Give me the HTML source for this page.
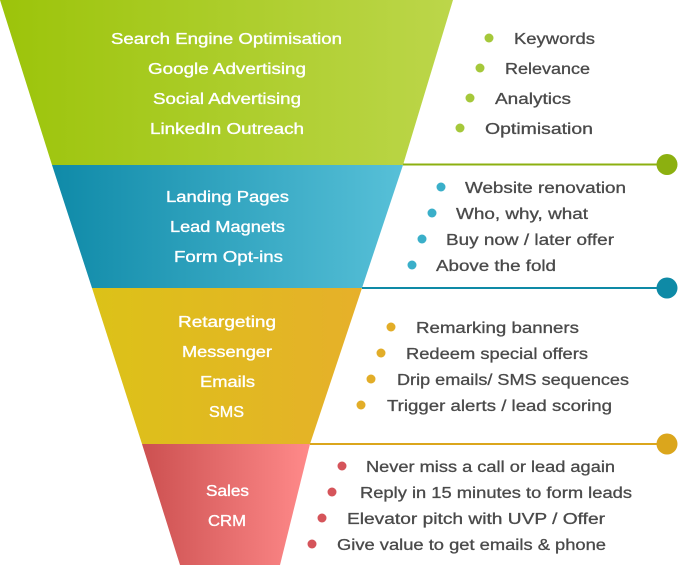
<!DOCTYPE html>
<html><head><meta charset="utf-8"><style>
html,body{margin:0;padding:0;background:#fff;}
svg text{font-family:"Liberation Sans",sans-serif;font-size:15.5px;}
.w{fill:#fff;stroke:#fff;stroke-width:0.35;text-anchor:start;}
.g{fill:#4a4a4a;stroke:#4a4a4a;stroke-width:0.3;}
</style></head><body>
<svg width="678" height="565" viewBox="0 0 678 565" xmlns="http://www.w3.org/2000/svg">
<defs>
<linearGradient id="gg" x1="0" y1="0" x2="1" y2="0"><stop offset="0" stop-color="#9cc40a"/><stop offset="1" stop-color="#bcd64a"/></linearGradient>
<linearGradient id="gb" x1="0" y1="0" x2="1" y2="0"><stop offset="0" stop-color="#0f8aa8"/><stop offset="1" stop-color="#57c0d8"/></linearGradient>
<linearGradient id="gy" x1="0" y1="0" x2="1" y2="0"><stop offset="0" stop-color="#dcc218"/><stop offset="1" stop-color="#e6b02a"/></linearGradient>
<linearGradient id="gr" x1="0" y1="0" x2="1" y2="0"><stop offset="0" stop-color="#cc5050"/><stop offset="1" stop-color="#ff8a8a"/></linearGradient>
</defs>
<polygon points="0,0 453,0 403,165 52,165" fill="url(#gg)"/>
<polygon points="52,165 403,165 362,288 92,288" fill="url(#gb)"/>
<polygon points="92,288 362,288 310,444 142,444" fill="url(#gy)"/>
<polygon points="142,444 310,444 280,565 180,565" fill="url(#gr)"/>
<line x1="403" y1="164.5" x2="667" y2="164.5" stroke="#8cb010" stroke-width="2"/>
<circle cx="667" cy="164.5" r="10.5" fill="#8cb010"/>
<line x1="362" y1="288" x2="667" y2="288" stroke="#0e8aa6" stroke-width="2"/>
<circle cx="667" cy="288" r="10.5" fill="#0e8aa6"/>
<line x1="310" y1="444" x2="667" y2="444" stroke="#dba61c" stroke-width="2"/>
<circle cx="667" cy="444" r="10.5" fill="#dba61c"/>
<g class="w" lengthAdjust="spacingAndGlyphs">
<text x="111" y="44" textLength="231" lengthAdjust="spacingAndGlyphs">Search Engine Optimisation</text>
<text x="148" y="74" textLength="158" lengthAdjust="spacingAndGlyphs">Google Advertising</text>
<text x="153" y="104" textLength="148" lengthAdjust="spacingAndGlyphs">Social Advertising</text>
<text x="150" y="134" textLength="154" lengthAdjust="spacingAndGlyphs">LinkedIn Outreach</text>
<text x="166" y="202" textLength="123" lengthAdjust="spacingAndGlyphs">Landing Pages</text>
<text x="170" y="232" textLength="115" lengthAdjust="spacingAndGlyphs">Lead Magnets</text>
<text x="174" y="262" textLength="109" lengthAdjust="spacingAndGlyphs">Form Opt-ins</text>
<text x="178" y="327" textLength="98" lengthAdjust="spacingAndGlyphs">Retargeting</text>
<text x="182" y="357" textLength="90" lengthAdjust="spacingAndGlyphs">Messenger</text>
<text x="200" y="387" textLength="55" lengthAdjust="spacingAndGlyphs">Emails</text>
<text x="209" y="417" textLength="35" lengthAdjust="spacingAndGlyphs">SMS</text>
<text x="206" y="496" textLength="43" lengthAdjust="spacingAndGlyphs">Sales</text>
<text x="208" y="526" textLength="38" lengthAdjust="spacingAndGlyphs">CRM</text>
</g>
<g fill="#a5c83a">
<circle cx="489" cy="38" r="4.5"/><circle cx="480" cy="68" r="4.5"/><circle cx="470" cy="98" r="4.5"/><circle cx="460" cy="128" r="4.5"/>
</g>
<g fill="#3aafc9">
<circle cx="441" cy="187" r="4.5"/><circle cx="432" cy="213" r="4.5"/><circle cx="422" cy="239" r="4.5"/><circle cx="412" cy="265" r="4.5"/>
</g>
<g fill="#e2ad28">
<circle cx="391" cy="327" r="4.5"/><circle cx="381" cy="353" r="4.5"/><circle cx="371" cy="379" r="4.5"/><circle cx="361" cy="405" r="4.5"/>
</g>
<g fill="#d5545a">
<circle cx="342" cy="466" r="4.5"/><circle cx="332" cy="492" r="4.5"/><circle cx="322" cy="518" r="4.5"/><circle cx="312" cy="544" r="4.5"/>
</g>
<g class="g">
<text x="514" y="44" textLength="81" lengthAdjust="spacingAndGlyphs">Keywords</text>
<text x="505" y="74" textLength="85" lengthAdjust="spacingAndGlyphs">Relevance</text>
<text x="495" y="104" textLength="76" lengthAdjust="spacingAndGlyphs">Analytics</text>
<text x="485" y="134" textLength="108" lengthAdjust="spacingAndGlyphs">Optimisation</text>
<text x="465" y="193" textLength="161" lengthAdjust="spacingAndGlyphs">Website renovation</text>
<text x="456" y="219" textLength="132" lengthAdjust="spacingAndGlyphs">Who, why, what</text>
<text x="446" y="245" textLength="168" lengthAdjust="spacingAndGlyphs">Buy now / later offer</text>
<text x="436" y="271" textLength="120" lengthAdjust="spacingAndGlyphs">Above the fold</text>
<text x="416" y="333" textLength="163" lengthAdjust="spacingAndGlyphs">Remarking banners</text>
<text x="406" y="359" textLength="182" lengthAdjust="spacingAndGlyphs">Redeem special offers</text>
<text x="397" y="385" textLength="232" lengthAdjust="spacingAndGlyphs">Drip emails/ SMS sequences</text>
<text x="387" y="411" textLength="225" lengthAdjust="spacingAndGlyphs">Trigger alerts / lead scoring</text>
<text x="366" y="472" textLength="249" lengthAdjust="spacingAndGlyphs">Never miss a call or lead again</text>
<text x="360" y="498" textLength="272" lengthAdjust="spacingAndGlyphs">Reply in 15 minutes to form leads</text>
<text x="347" y="524" textLength="258" lengthAdjust="spacingAndGlyphs">Elevator pitch with  UVP / Offer</text>
<text x="337" y="550" textLength="269" lengthAdjust="spacingAndGlyphs">Give value to get emails &amp; phone</text>
</g>
</svg>
</body></html>
